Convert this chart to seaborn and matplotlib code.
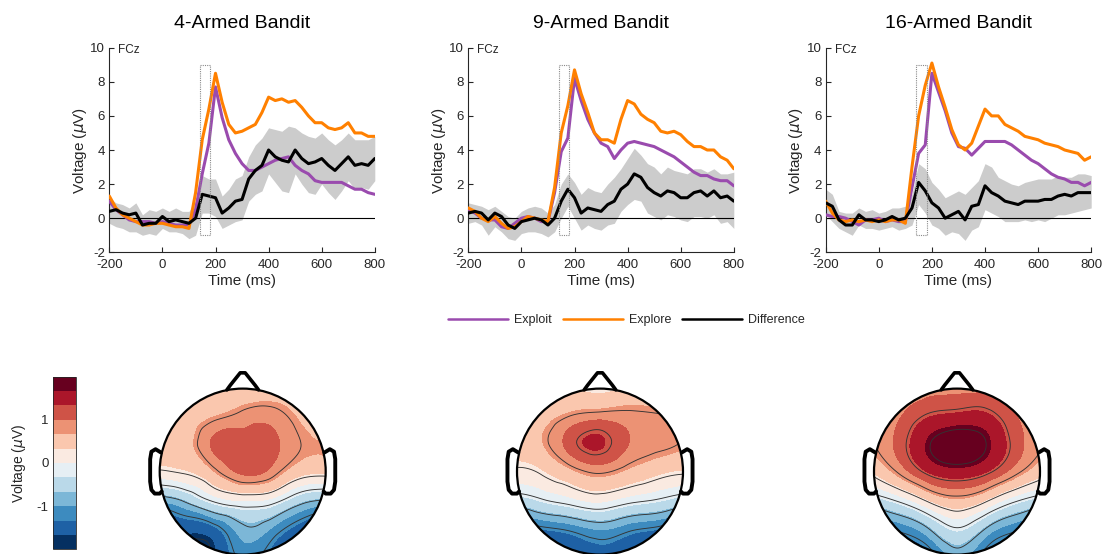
import numpy as np
import pandas as pd
import matplotlib
matplotlib.use("Agg")
import matplotlib.pyplot as plt
import matplotlib.tri as mtri
from matplotlib.patches import Circle, Rectangle
from matplotlib.lines import Line2D
from matplotlib.colors import ListedColormap, BoundaryNorm
from matplotlib.cm import ScalarMappable
import seaborn as sns

sns.set_theme(style="ticks")
plt.rcParams["font.family"] = ["Liberation Sans", "DejaVu Sans"]
plt.rcParams["axes.unicode_minus"] = False

# ---------------------------------------------------------------- data
time_ms = np.arange(-200, 801, 25)

titles = ["4-Armed Bandit", "9-Armed Bandit", "16-Armed Bandit"]
trace_names = ["Exploit", "Explore", "Difference"]

# 4-armed bandit (FCz)
exploit_4 = [1.0, 0.5, 0.2, -0.1, -0.2, -0.2, -0.2, -0.3, -0.2, -0.3, -0.4, -0.4, -0.4,
             0.5, 2.6, 4.4, 7.7,
             5.9, 4.6, 3.8, 3.2, 2.8, 2.8, 3.0, 3.2, 3.4, 3.5, 3.6, 3.1, 2.8, 2.6, 2.2,
             2.1, 2.1, 2.1, 2.1, 1.9, 1.7, 1.7, 1.5, 1.4]
explore_4 = [1.3, 0.6, 0.2, 0.0, -0.2, -0.4, -0.4, -0.3, -0.3, -0.4, -0.5, -0.5, -0.6,
             1.5, 4.6, 6.4, 8.5,
             6.8, 5.5, 5.0, 5.1, 5.3, 5.5, 6.2, 7.1, 6.9, 7.0, 6.8, 6.9, 6.5, 6.0, 5.6,
             5.6, 5.3, 5.2, 5.3, 5.6, 5.0, 5.0, 4.8, 4.8]
diff_4 = [0.4, 0.5, 0.3, 0.2, 0.3, -0.4, -0.3, -0.3, 0.1, -0.2, -0.1, -0.2, -0.3,
          0.0, 1.4, 1.3, 1.2,
          0.3, 0.6, 1.0, 1.1, 2.3, 2.8, 3.1, 4.0, 3.6, 3.4, 3.3, 4.0, 3.5, 3.2, 3.3,
          3.5, 3.1, 2.8, 3.2, 3.6, 3.1, 3.2, 3.1, 3.5]
ci_hi_4 = [1.2, 0.9, 0.8, 0.6, 0.9, 0.2, 0.5, 0.4, 0.6, 0.4, 0.6, 0.4, 0.4,
           1.0, 2.5, 2.3, 2.3,
           1.3, 1.7, 2.3, 2.5, 3.6, 4.3, 4.7, 5.3, 5.2, 5.1, 5.4, 5.3, 5.0, 4.8, 4.7,
           5.0, 4.6, 4.3, 4.6, 5.0, 4.6, 4.6, 4.6, 4.8]
ci_lo_4 = [-0.3, -0.5, -0.6, -0.8, -0.8, -1.0, -0.9, -1.0, -0.6, -0.8, -0.8, -0.9, -1.2,
           -1.0, 0.3, 0.3, 0.1,
           -0.6, -0.4, -0.2, -0.1, 1.0, 1.4, 1.6, 2.6, 2.1, 1.6, 1.5, 2.6, 2.0, 1.5, 1.4,
           2.0, 1.5, 1.1, 1.6, 2.2, 1.7, 1.8, 1.7, 2.2]

# 9-armed bandit (FCz)
exploit_9 = [0.5, 0.3, 0.0, -0.1, -0.1, -0.5, -0.6, -0.3, 0.0, 0.1, 0.0, -0.2, -0.2,
             1.5, 3.9, 4.7, 8.2,
             6.9, 5.8, 5.0, 4.4, 4.2, 3.5, 4.0, 4.4, 4.5, 4.4, 4.3, 4.2, 4.0, 3.8, 3.6,
             3.3, 3.0, 2.7, 2.5, 2.5, 2.3, 2.2, 2.2, 1.9]
explore_9 = [0.6, 0.4, 0.0, -0.2, 0.1, -0.3, -0.6, -0.5, -0.2, 0.1, 0.0, -0.1, -0.2,
             1.8, 5.0, 6.6, 8.7,
             7.3, 6.2, 5.0, 4.6, 4.6, 4.4, 5.8, 6.9, 6.7, 6.1, 5.8, 5.6, 5.1, 5.0, 5.1,
             4.9, 4.5, 4.2, 4.2, 4.0, 4.0, 3.6, 3.4, 2.9]
diff_9 = [0.3, 0.4, 0.3, -0.1, 0.3, 0.1, -0.4, -0.6, -0.2, -0.1, 0.0, -0.1, -0.4,
          0.0, 1.0, 1.7, 1.2,
          0.3, 0.6, 0.5, 0.4, 0.8, 1.0, 1.7, 2.0, 2.6, 2.4, 1.8, 1.5, 1.3, 1.6, 1.5,
          1.2, 1.2, 1.5, 1.6, 1.3, 1.6, 1.2, 1.3, 1.0]
ci_hi_9 = [0.9, 0.8, 0.7, 0.5, 0.7, 0.4, 0.1, 0.0, 0.4, 0.6, 0.7, 0.6, 0.3,
           0.8, 2.0, 2.6, 2.1,
           1.4, 1.8, 1.6, 1.5, 2.0, 2.4, 2.9, 3.5, 4.1, 3.7, 3.2, 3.0, 2.6, 3.0, 2.8,
           2.7, 2.6, 2.9, 2.9, 2.7, 2.9, 2.6, 2.6, 2.7]
ci_lo_9 = [-0.3, -0.2, -0.4, -1.0, -0.5, -0.8, -1.2, -1.3, -0.9, -0.8, -0.8, -0.9, -1.1,
           -0.8, 0.0, 0.7, 0.0,
           -0.7, -0.4, -0.6, -0.7, -0.4, -0.3, 0.4, 0.8, 1.1, 1.0, 0.3, 0.1, -0.1, 0.2,
           0.1, -0.1, -0.2, 0.1, 0.1, 0.0, 0.2, -0.3, -0.2, -0.6]

# 16-armed bandit (FCz)
exploit_16 = [0.2, 0.1, 0.1, 0.0, -0.2, -0.4, -0.1, -0.1, 0.0, -0.2, -0.1, -0.2, -0.2,
              1.8, 3.8, 4.3, 8.5,
              7.4, 6.3, 5.0, 4.2, 4.1, 3.7, 4.1, 4.5, 4.5, 4.5, 4.5, 4.3, 4.0, 3.7, 3.4,
              3.2, 2.9, 2.6, 2.4, 2.3, 2.1, 2.1, 1.9, 2.1]
explore_16 = [1.0, 0.3, -0.1, -0.2, -0.1, -0.2, -0.1, -0.2, -0.1, -0.2, -0.1, -0.1, -0.3,
              3.0, 6.0, 7.8, 9.1,
              7.7, 6.5, 5.2, 4.3, 4.0, 4.4, 5.4, 6.4, 6.0, 6.0, 5.5, 5.3, 5.1, 4.8, 4.7,
              4.6, 4.4, 4.3, 4.2, 4.0, 3.9, 3.8, 3.4, 3.6]
diff_16 = [0.9, 0.7, -0.1, -0.4, -0.4, 0.2, -0.1, -0.1, -0.2, -0.1, 0.1, -0.1, 0.0,
           0.6, 2.1, 1.6, 0.9,
           0.6, 0.0, 0.2, 0.4, -0.1, 0.7, 0.8, 1.9, 1.5, 1.3, 1.0, 0.9, 0.8, 1.0, 1.0,
           1.0, 1.1, 1.1, 1.3, 1.4, 1.3, 1.5, 1.5, 1.5]
ci_hi_16 = [1.7, 1.4, 0.4, 0.3, 0.3, 0.6, 0.4, 0.5, 0.3, 0.4, 0.6, 0.6, 0.7,
            1.4, 3.2, 2.9, 2.1,
            1.7, 1.2, 1.4, 1.6, 1.4, 1.8, 2.2, 3.2, 3.0, 2.4, 2.2, 2.0, 1.9, 2.1, 2.2,
            2.3, 2.3, 2.3, 2.5, 2.4, 2.4, 2.6, 2.6, 2.5]
ci_lo_16 = [0.2, -0.2, -0.6, -0.8, -1.0, -0.4, -0.6, -0.6, -0.7, -0.6, -0.5, -0.7, -0.6,
            -0.4, 0.8, 0.3, -0.4,
            -0.6, -1.0, -0.8, -0.9, -1.3, -0.7, -0.5, 0.5, 0.3, 0.1, -0.2, -0.2, -0.2,
            -0.1, -0.2, -0.1, -0.2, 0.0, 0.2, 0.2, 0.3, 0.4, 0.5, 0.6]

# Scalp voltage (uV) on a 7x7 grid, rows front (nose) to back, columns left to right
topo_grid = np.linspace(-1.05, 1.05, 7)
topo_4 = [
    [0.4, 0.4, 0.3, 0.2, 0.3, 0.4, 0.4],
    [0.4, 0.45, 0.6, 0.8, 0.85, 0.6, 0.5],
    [0.4, 0.5, 1.05, 1.15, 1.08, 0.75, 0.7],
    [0.2, 0.3, 0.65, 1.08, 0.9, 0.45, 0.4],
    [-1.0, -0.7, -0.2, 0.0, -0.1, -0.6, -0.8],
    [-1.8, -1.6, -1.45, -0.85, -1.05, -1.5, -1.8],
    [-2.0, -1.9, -1.6, -1.2, -1.45, -1.85, -2.0],
]
topo_9 = [
    [0.4, 0.4, 0.3, 0.2, 0.3, 0.4, 0.4],
    [0.4, 0.5, 0.7, 0.8, 0.8, 0.75, 0.6],
    [0.45, 0.65, 1.15, 1.38, 1.0, 0.85, 0.7],
    [0.2, 0.3, 0.6, 0.8, 0.6, 0.4, 0.3],
    [-0.5, -0.3, -0.1, 0.05, -0.15, -0.3, -0.5],
    [-1.6, -1.35, -1.2, -1.0, -1.2, -1.35, -1.6],
    [-1.9, -1.8, -1.6, -1.5, -1.6, -1.8, -1.9],
]
topo_16 = [
    [0.7, 0.8, 0.85, 0.9, 0.85, 0.8, 0.7],
    [0.7, 0.95, 1.25, 1.35, 1.35, 1.0, 0.8],
    [0.7, 1.1, 1.7, 1.95, 1.75, 1.15, 0.75],
    [0.3, 0.8, 1.35, 1.55, 1.35, 0.85, 0.4],
    [-0.5, -0.2, 0.3, 0.6, 0.3, -0.2, -0.5],
    [-1.5, -1.2, -0.8, -0.3, -0.8, -1.2, -1.5],
    [-1.9, -1.7, -1.5, -1.0, -1.5, -1.7, -1.9],
]

panels = [
    (exploit_4, explore_4, diff_4, ci_lo_4, ci_hi_4),
    (exploit_9, explore_9, diff_9, ci_lo_9, ci_hi_9),
    (exploit_16, explore_16, diff_16, ci_lo_16, ci_hi_16),
]
topos = [topo_4, topo_9, topo_16]

# ---------------------------------------------------------------- style
palette = {"Exploit": "#9A4BAE", "Explore": "#FF8000", "Difference": "#000000"}
ink = "#262626"
W, H = 1107, 554

fig = plt.figure(figsize=(W / 100, H / 100), dpi=100)

# ---------------------------------------------------------------- ERP panels
erp_left_px = [109.3, 468.3, 825.7]
for title, left_px, (exploit, explore, diff, lo, hi) in zip(titles, erp_left_px, panels):
    ax = fig.add_axes([left_px / W, (H - 252.3) / H, 265.5 / W, 204.6 / H])
    ax.fill_between(time_ms, lo, hi, color="#CCCCCC", lw=0, zorder=1)
    ax.axhline(0, color="black", lw=0.8, zorder=2)
    df = pd.DataFrame({
        "time": np.tile(time_ms, 3),
        "voltage": np.concatenate([exploit, explore, diff]),
        "trace": np.repeat(trace_names, len(time_ms)),
    })
    sns.lineplot(data=df, x="time", y="voltage", hue="trace", hue_order=trace_names,
                 palette=palette, linewidth=2.2, errorbar=None, legend=False,
                 ax=ax, zorder=3)
    ax.add_patch(Rectangle((140, -1), 40, 10, fill=False, ec="#8A8A8A",
                           lw=0.8, ls=(0, (1, 1)), zorder=4))
    ax.text(-166, 9.85, "FCz", fontsize=8.5, color=ink, va="center", ha="left")
    ax.set_xlim(-200, 800)
    ax.set_ylim(-2, 10)
    ax.set_xticks(range(-200, 801, 200))
    ax.set_yticks(range(-2, 11, 2))
    ax.set_xlabel("Time (ms)", fontsize=11, color=ink, labelpad=2)
    ax.set_ylabel(r"Voltage ($\mu$V)", fontsize=11, color=ink, labelpad=1)
    ax.set_title(title, fontsize=14, color="black", pad=14)
    ax.tick_params(axis="both", direction="in", length=3.5, width=0.8, color=ink,
                   labelsize=9.5, labelcolor=ink)
    ax.tick_params(axis="x", pad=5)
    ax.tick_params(axis="y", pad=3)
    for side in ("top", "right"):
        ax.spines[side].set_visible(False)
    for side in ("left", "bottom"):
        ax.spines[side].set_color(ink)
        ax.spines[side].set_linewidth(0.8)

handles = [Line2D([], [], color=palette[n], lw=1.8) for n in trace_names]
fig.legend(handles, trace_names, loc="center", bbox_to_anchor=(0.566, 0.422),
           ncol=3, frameon=False, fontsize=9, handlelength=4.8,
           handletextpad=0.45, columnspacing=0.9)

# ---------------------------------------------------------------- scalp maps
levels = np.linspace(-2, 2, 13)
colors = matplotlib.colormaps["RdBu_r"].resampled(12)(np.arange(12))
cmap = ListedColormap(colors).with_extremes(under=colors[0], over=colors[-1])
norm = BoundaryNorm(levels, 12)
line_levels = [-1.75, -1.25, -0.75, -0.25, 0.25, 0.75, 1.25, 1.75]

gx, gy = np.meshgrid(topo_grid, topo_grid[::-1])
base_tri = mtri.Triangulation(gx.ravel(), gy.ravel())
refiner = mtri.UniformTriRefiner(base_tri)

nose = [(-0.19, 0.985), (-0.15, 1.04), (-0.03, 1.19), (0.03, 1.19),
        (0.15, 1.04), (0.19, 0.985)]
ear = [(-0.985, 0.23), (-1.05, 0.27), (-1.10, 0.24), (-1.115, 0.15), (-1.115, -0.12),
       (-1.10, -0.22), (-1.06, -0.265), (-1.0, -0.265), (-0.975, -0.24)]

r_px, cy_px = 83.0, 471.6
for cx_px, values in zip([242.7, 600.0, 957.0], topos):
    ax = fig.add_axes([(cx_px - 1.25 * r_px) / W, (H - (cy_px + 1.1 * r_px)) / H,
                       2.5 * r_px / W, 2.4 * r_px / H])
    ax.set_xlim(-1.25, 1.25)
    ax.set_ylim(-1.1, 1.3)
    ax.axis("off")
    fine_tri, fine_z = refiner.refine_field(np.asarray(values, float).ravel(), subdiv=4)
    clip = Circle((0, 0), 1.0, transform=ax.transData)
    filled = ax.tricontourf(fine_tri, fine_z, levels=levels, cmap=cmap, norm=norm,
                            extend="both", zorder=1)
    filled.set_clip_path(clip)
    lines = ax.tricontour(fine_tri, fine_z, levels=line_levels, colors="#333333",
                          linewidths=0.65, linestyles="solid", zorder=2)
    lines.set_clip_path(clip)
    ax.add_patch(Circle((0, 0), 1.0, fill=False, ec="black", lw=1.6, zorder=3))
    nx, ny = zip(*nose)
    ax.plot(nx, ny, color="black", lw=2.6, solid_joinstyle="round",
            solid_capstyle="round", zorder=3)
    ex, ey = zip(*ear)
    ax.plot(ex, ey, color="black", lw=2.8, solid_joinstyle="round",
            solid_capstyle="round", zorder=3)
    ax.plot([-v for v in ex], ey, color="black", lw=2.8, solid_joinstyle="round",
            solid_capstyle="round", zorder=3)

# ---------------------------------------------------------------- colour bar
cax = fig.add_axes([52.7 / W, (H - 549.3) / H, 23.3 / W, 172.6 / H])
cb = fig.colorbar(ScalarMappable(norm=norm, cmap=cmap), cax=cax, ticks=[-1, 0, 1])
cb.minorticks_off()
cax.yaxis.set_ticks_position("left")
cax.yaxis.set_label_position("left")
cax.tick_params(which="both", direction="in", length=3, width=0.6, color=ink,
                labelsize=9.5, labelcolor=ink, pad=3)
cax.yaxis.set_minor_locator(matplotlib.ticker.NullLocator())
cb.outline.set_edgecolor(ink)
cb.outline.set_linewidth(0.6)
cb.set_label(r"Voltage ($\mu$V)", fontsize=10, color=ink, labelpad=6)

fig.savefig("out.png", dpi=100)
